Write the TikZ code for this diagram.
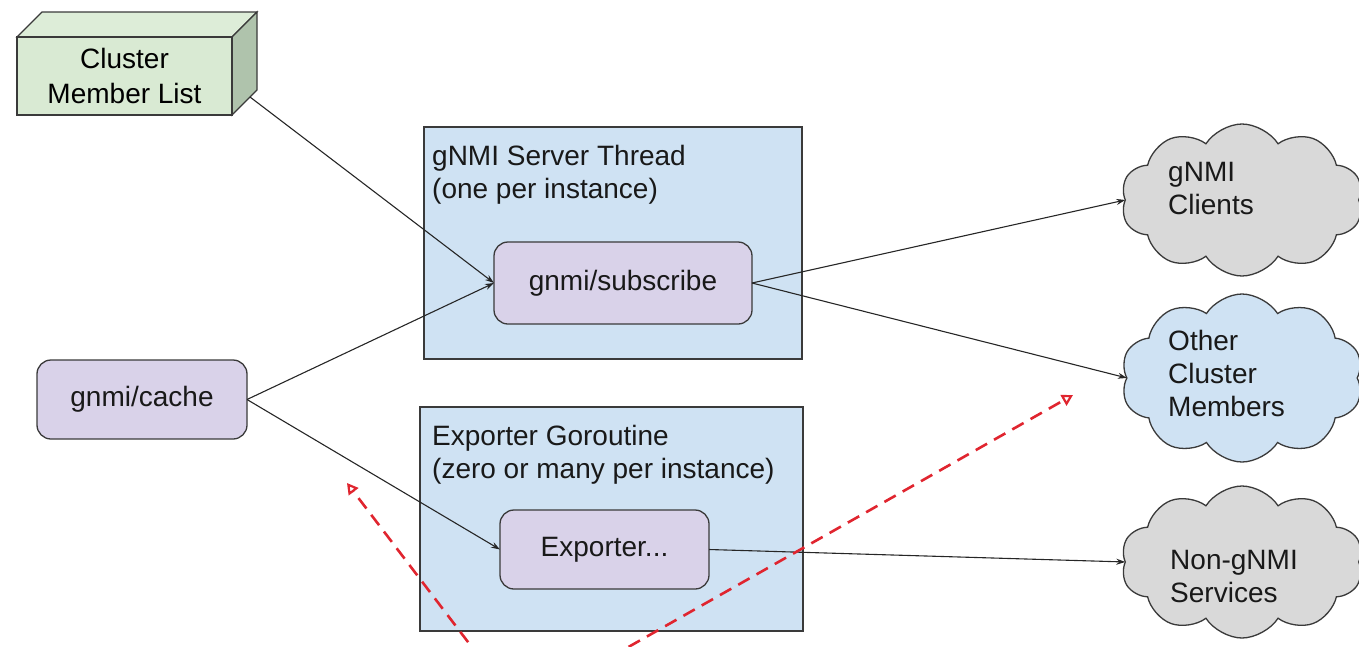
\documentclass[tikz,border=0pt]{standalone}
\usepackage{fontspec}
\setmainfont{Liberation Sans}
\usetikzlibrary{arrows.meta,shapes.symbols}
\definecolor{boxblue}{HTML}{CFE2F3}
\definecolor{lav}{HTML}{D9D2E9}
\definecolor{cloudgray}{HTML}{D9D9D9}
\definecolor{cloudblue}{HTML}{CFE2F3}
\definecolor{edge}{HTML}{3A3A3A}
\definecolor{dashred}{HTML}{E0252F}
\definecolor{greenfront}{HTML}{D9EAD3}
\definecolor{greentop}{HTML}{DDEDD8}
\definecolor{greenside}{HTML}{AFC3AC}
\tikzset{
  txt/.style={font=\fontsize{28}{33}\selectfont, text=black!90},
  container/.style={draw=edge, line width=1.3pt, fill=boxblue, inner sep=0pt, outer sep=0pt, anchor=north west},
  procbox/.style={draw=edge, line width=1.3pt, fill=lav, rounded corners=14pt, inner sep=0pt, outer sep=0pt, txt},
  cloudnode/.style={cloud, cloud puffs=10, cloud puff arc=115, aspect=1.6, draw=edge, line width=1.3pt, inner sep=0pt, outer sep=0pt},
  conn/.style={draw=black!85, line width=1.1pt, -{Stealth[length=9pt,width=6pt]}},
  reddash/.style={draw=dashred, line width=2.6pt, dash pattern=on 13pt off 8pt, -{Triangle[open,length=11pt,width=12pt,line width=2.2pt]}},
}
\begin{document}
\begin{tikzpicture}[x=1pt,y=-1pt]
\useasboundingbox (0,0) rectangle (1359,646);
\clip (0,0) rectangle (1359,646);
% Cluster member list (cuboid)
\fill[greentop, draw=edge, line width=1.2pt] (17,37) -- (42,12) -- (257,12) -- (232,37) -- cycle;
\fill[greenside, draw=edge, line width=1.2pt] (232,37) -- (257,12) -- (257,90) -- (232,115) -- cycle;
\node[draw=edge, line width=1.2pt, fill=greenfront, anchor=north west, minimum width=215, minimum height=78, inner sep=0pt, outer sep=0pt, align=center, font=\fontsize{28}{35}\selectfont] (cml) at (17,37) {Cluster\\Member List};
\coordinate (cmlr) at (250,97);
% containers
\node[container, minimum width=378, minimum height=232] (srv) at (424,127) {};
\node[txt, anchor=north west, align=left, inner sep=0pt] (srvt) at (432,145) {gNMI Server Thread\\(one per instance)};
\node[container, minimum width=383, minimum height=224] (expc) at (420,407) {};
\node[txt, anchor=north west, align=left, inner sep=0pt] (expt) at (432,425) {Exporter Goroutine\\(zero or many per instance)};
% process boxes
\node[procbox, minimum width=258, minimum height=82] (sub) at (623,283) {gnmi/subscribe};
\node[procbox, minimum width=210, minimum height=79] (cache) at (142,399.5) {gnmi/cache};
\node[procbox, minimum width=209, minimum height=79] (exp) at (604.5,549.5) {Exporter...};
% clouds
\node[cloudnode, fill=cloudgray, minimum width=242, minimum height=152] (c1) at (1242,200) {};
\node[txt, anchor=north west, align=left, inner sep=0pt] (c1t) at (1168,162) {gNMI\\Clients};
\node[cloudnode, fill=cloudblue, minimum width=242, minimum height=168] (c2) at (1242,378) {};
\node[txt, anchor=north west, align=left, inner sep=0pt] (c2t) at (1168,330) {Other\\Cluster\\Members};
\node[cloudnode, fill=cloudgray, minimum width=242, minimum height=152] (c3) at (1242,562) {};
\node[txt, anchor=north west, align=left, inner sep=0pt] (c3t) at (1170,550) {Non-gNMI\\Services};
% connectors
\draw[conn] (cmlr) -- (sub.west);
\draw[conn] (cache.east) -- (sub.west);
\draw[conn] (cache.east) -- (exp.west);
\draw[conn] (sub.east) -- (c1.west);
\draw[conn] (sub.east) -- (c2.west);
\draw[conn] (exp.east) -- (c3.west);
% red dashed arrows
\coordinate (orig) at (519,709);
\coordinate (t1) at (347,483);
\coordinate (t2) at (1073,395);
\draw[reddash] (orig) -- (t1);
\draw[reddash] (orig) -- (t2);
\end{tikzpicture}
\end{document}
